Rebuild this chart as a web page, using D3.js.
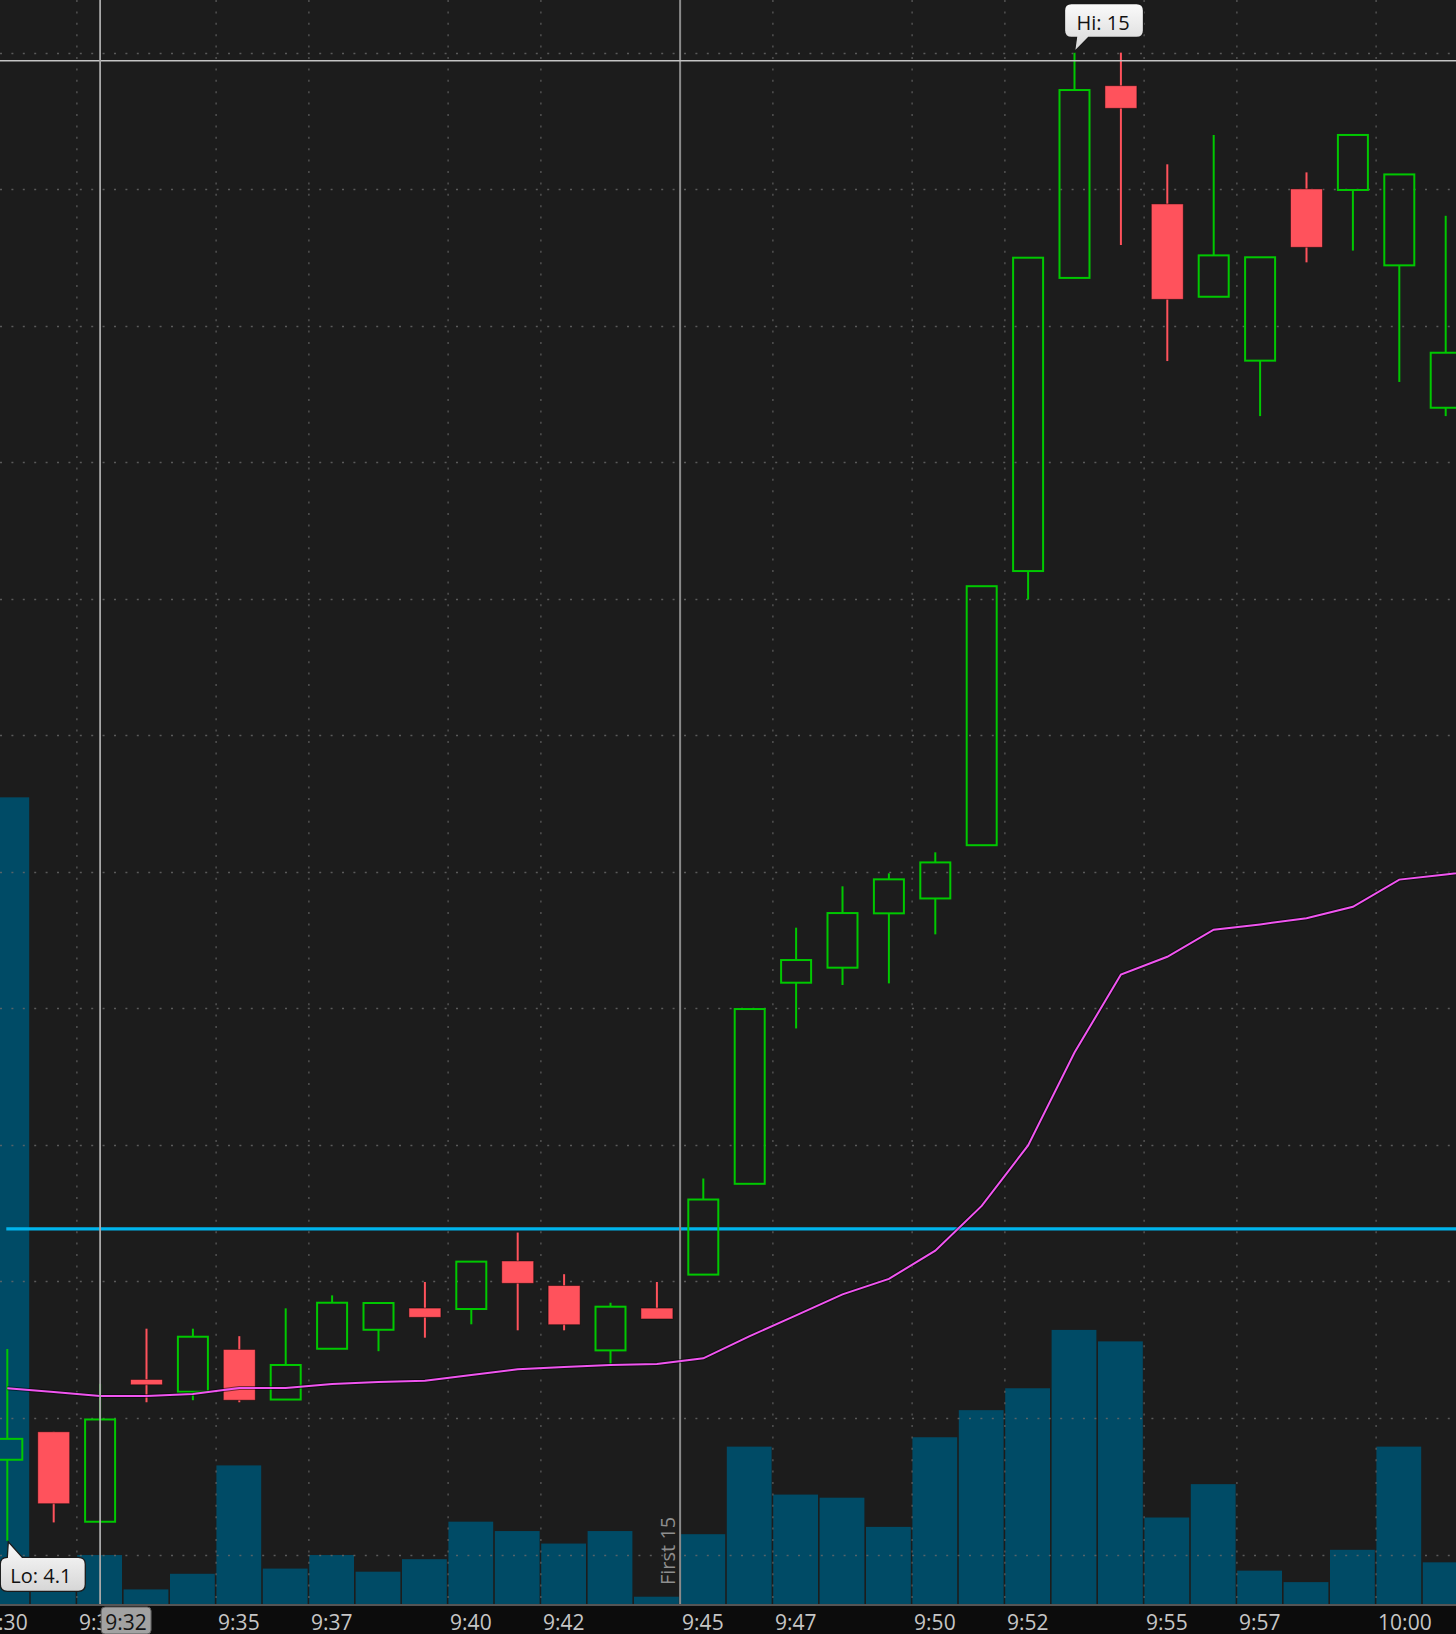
<!DOCTYPE html>
<html>
<head>
<meta charset="utf-8">
<script src="https://cdn.jsdelivr.net/npm/d3@7"></script>
<style>
  html, body { margin: 0; padding: 0; background: #1c1c1c; }
  svg { display: block; }
  text { font-family: "Open Sans", "Noto Sans", sans-serif; }
</style>
</head>
<body>
<svg id="chart" width="1456" height="1634"></svg>
<script>
// ---- data (1-minute bars) ----
const times = ["9:30","9:31","9:32","9:33","9:34","9:35","9:36","9:37","9:38","9:39",
  "9:40","9:41","9:42","9:43","9:44","9:45","9:46","9:47","9:48","9:49",
  "9:50","9:51","9:52","9:53","9:54","9:55","9:56","9:57","9:58","9:59","10:00","10:01"];
const opens  = [4.694,4.899,4.240,5.282,5.192,5.502,5.135,5.507,5.646,5.805,
  5.798,6.150,5.970,5.495,5.805,6.050,6.715,8.188,8.298,8.696,
  8.805,9.195,11.203,13.350,14.758,13.892,13.212,12.744,14.002,13.994,13.442,12.399];
const highs  = [5.505,4.899,5.250,5.654,5.654,5.599,5.803,5.898,5.842,5.996,
  6.145,6.358,6.053,5.844,5.996,6.754,7.995,8.591,8.894,8.989,
  9.143,11.092,13.498,15.000,15.000,14.182,14.397,13.501,14.123,14.397,14.108,13.805];
const lows   = [4.100,4.235,4.240,5.115,5.130,5.115,5.135,5.507,5.489,5.588,
  5.686,5.642,5.642,5.392,5.725,6.050,6.715,7.853,8.171,8.183,
  8.542,9.195,10.994,13.350,13.591,12.741,13.212,12.338,13.464,13.550,12.588,12.338];
const closes = [4.847,4.372,4.989,5.243,5.595,5.130,5.388,5.844,5.842,5.737,
  6.145,5.986,5.683,5.815,5.725,6.600,7.995,8.354,8.698,8.945,
  9.069,11.092,13.498,14.726,14.592,13.193,13.515,13.501,13.574,14.397,14.108,12.802];
const volumes = [774,34,47,14,29,133,34,47,31,43,
  79,70,58,70,7,67,151,105,102,74,
  160,186,207,263,252,83,115,32,21,52,151,40];
// VWAP per minute (last value is 10:02, just past the right edge)
const vwap = [5.217,5.190,5.160,5.160,5.175,5.219,5.219,5.248,5.263,5.273,
  5.314,5.356,5.373,5.388,5.395,5.437,5.599,5.752,5.905,6.019,
  6.225,6.553,6.996,7.676,8.248,8.378,8.576,8.615,8.660,8.744,8.943,8.981,9.02];
const levelPrice = 6.385;
const gridPrices = [4,5,6,7,8,9,10,11,12,13,14,15];
const tickMinutes = [0,2,5,7,10,12,15,17,20,22,25,27,30];
const tickLabels = ["9:30","9:32","9:35","9:37","9:40","9:42","9:45","9:47","9:50","9:52","9:55","9:57","10:00"];
const cursorMinute = 2;      // 9:32
const cursorLabel = "9:32";
const cursorPrice = 14.94;
const firstMinutes = 15;
const firstLabel = "First 15";
const hiLabel = "Hi: 15", hiIndex = 23, hiPrice = 15;
const loLabel = "Lo: 4.1", loIndex = 0, loPrice = 4.1;

// ---- layout ----
const W = 1456, H = 1634;
const axisTop = 1604;
const svg = d3.select("#chart");

const x = d3.scaleLinear().domain([0, 32]).range([-15.9, 1468.9]);
const step = x(1) - x(0);
const y = d3.scaleLinear().domain([4, 15]).range([1554.5, 52.63]);
const yv = d3.scaleLinear().domain([0, 800]).range([axisTop, axisTop - 800 * 1.0422]);

const GREEN = "#00c800", RED = "#ff525c", VOL = "#004b66";

svg.append("rect").attr("width", W).attr("height", H).attr("fill", "#1c1c1c");

const plot = svg.append("g");
const idx = d3.range(times.length);

// volume bars
plot.append("g").selectAll("rect").data(idx).join("rect")
  .attr("x", i => x(i) + 0.3)
  .attr("width", step - 1.6)
  .attr("y", i => yv(volumes[i]))
  .attr("height", i => axisTop - yv(volumes[i]))
  .attr("fill", VOL);

// grid
const grid = plot.append("g").attr("stroke", "#6a6a6a").attr("stroke-width", 1.3)
  .attr("stroke-dasharray", "2,9.4").attr("opacity", 0.8);
grid.selectAll("line.h").data(gridPrices).join("line")
  .attr("x1", 0).attr("x2", W)
  .attr("y1", d => Math.round(y(d)) + 0.5).attr("y2", d => Math.round(y(d)) + 0.5);
grid.selectAll("line.v").data(tickMinutes.filter(m => m !== firstMinutes)).join("line")
  .attr("y1", 0).attr("y2", axisTop)
  .attr("x1", d => x(d)).attr("x2", d => x(d));

// level line (cyan)
plot.append("line")
  .attr("x1", 6.3).attr("x2", W)
  .attr("y1", y(levelPrice)).attr("y2", y(levelPrice))
  .attr("stroke", "#00b4ec").attr("stroke-width", 3.2);

// First 15 separator
plot.append("line")
  .attr("x1", x(firstMinutes)).attr("x2", x(firstMinutes))
  .attr("y1", 0).attr("y2", axisTop)
  .attr("stroke", "#8a8a8a").attr("stroke-width", 2);
plot.append("text")
  .attr("transform", `translate(${x(firstMinutes) - 5},1585) rotate(-90)`)
  .attr("fill", "#8e8e8e").attr("font-size", 20)
  .text(firstLabel);

// candles
const cg = plot.append("g").selectAll("g").data(idx).join("g");
cg.each(function(i) {
  const g = d3.select(this);
  const cx = x(i + 0.5);
  const o = opens[i], c = closes[i], h = highs[i], l = lows[i];
  if (c >= o) {
    const top = y(c), bot = y(o);
    if (y(h) < top - 0.5)
      g.append("line").attr("x1", cx).attr("x2", cx).attr("y1", y(h)).attr("y2", top)
        .attr("stroke", GREEN).attr("stroke-width", 2);
    if (y(l) > bot + 0.5)
      g.append("line").attr("x1", cx).attr("x2", cx).attr("y1", bot).attr("y2", y(l))
        .attr("stroke", GREEN).attr("stroke-width", 2);
    g.append("rect").attr("x", cx - 15).attr("y", top)
      .attr("width", 30).attr("height", Math.max(1, bot - top))
      .attr("fill", "none").attr("stroke", GREEN).attr("stroke-width", 2);
  } else {
    g.append("line").attr("x1", cx).attr("x2", cx).attr("y1", y(h)).attr("y2", y(l))
      .attr("stroke", RED).attr("stroke-width", 2);
    g.append("rect").attr("x", cx - 16).attr("y", y(o))
      .attr("width", 32).attr("height", Math.max(1, y(c) - y(o)))
      .attr("fill", RED).attr("stroke", "rgba(0,0,0,0.45)").attr("stroke-width", 1);
  }
});

// VWAP line
const vline = d3.line().x((d, i) => x(i + 0.5)).y(d => y(d));
plot.append("path").datum(vwap).attr("d", vline)
  .attr("fill", "none").attr("stroke", "rgba(0,0,0,0.5)").attr("stroke-width", 4);
plot.append("path").datum(vwap).attr("d", vline)
  .attr("fill", "none").attr("stroke", "#f055f0").attr("stroke-width", 2);

// crosshair
plot.append("line")
  .attr("x1", 0).attr("x2", W).attr("y1", y(cursorPrice)).attr("y2", y(cursorPrice))
  .attr("stroke", "#c4c4c4").attr("stroke-width", 1.4);
plot.append("line")
  .attr("x1", x(cursorMinute + 0.5)).attr("x2", x(cursorMinute + 0.5))
  .attr("y1", 0).attr("y2", axisTop)
  .attr("stroke", "#a8a8a8").attr("stroke-width", 1.8);

// bubbles
const defs = svg.append("defs");
const grad = defs.append("linearGradient").attr("id", "bub").attr("x1", 0).attr("x2", 0).attr("y1", 0).attr("y2", 1);
grad.append("stop").attr("offset", "0%").attr("stop-color", "#fbfbfb");
grad.append("stop").attr("offset", "100%").attr("stop-color", "#d6d6d6");

// Hi bubble
{
  const ax = x(hiIndex + 0.5), ay = y(hiPrice);
  const l = ax - 10, t = 3.5, w = 79, h = 34;
  const p = d3.path();
  const r = 7;
  p.moveTo(l + r, t);
  p.lineTo(l + w - r, t);
  p.quadraticCurveTo(l + w, t, l + w, t + r);
  p.lineTo(l + w, t + h - r);
  p.quadraticCurveTo(l + w, t + h, l + w - r, t + h);
  p.lineTo(l + 24, t + h);
  p.lineTo(ax, ay - 1);
  p.lineTo(l + 12, t + h);
  p.lineTo(l + r, t + h);
  p.quadraticCurveTo(l, t + h, l, t + h - r);
  p.lineTo(l, t + r);
  p.quadraticCurveTo(l, t, l + r, t);
  p.closePath();
  svg.append("path").attr("d", p.toString())
    .attr("fill", "url(#bub)").attr("stroke", "#1a1a1a").attr("stroke-width", 1.3);
  svg.append("text").attr("x", l + 12).attr("y", t + 26.5)
    .attr("font-size", 20).attr("fill", "#111").text(hiLabel);
}
// Lo bubble
{
  const ax = x(loIndex + 0.5), ay = y(loPrice);
  const l = ax - 7, t = ay + 16.5, w = 85, h = 34;
  const r = 7;
  const p = d3.path();
  p.moveTo(l + r, t);
  p.lineTo(ax + 1, ay + 1);
  p.lineTo(l + 22, t);
  p.lineTo(l + w - r, t);
  p.quadraticCurveTo(l + w, t, l + w, t + r);
  p.lineTo(l + w, t + h - r);
  p.quadraticCurveTo(l + w, t + h, l + w - r, t + h);
  p.lineTo(l + r, t + h);
  p.quadraticCurveTo(l, t + h, l, t + h - r);
  p.lineTo(l, t + r);
  p.quadraticCurveTo(l, t, l + r, t);
  p.closePath();
  svg.append("path").attr("d", p.toString())
    .attr("fill", "url(#bub)").attr("stroke", "#1a1a1a").attr("stroke-width", 1.3);
  svg.append("text").attr("x", l + 10).attr("y", t + 26)
    .attr("font-size", 20).attr("fill", "#111").text(loLabel);
}

// x axis
svg.append("rect").attr("x", 0).attr("y", axisTop).attr("width", W).attr("height", H - axisTop)
  .attr("fill", "#0c0c0c");
svg.append("line").attr("x1", 0).attr("x2", W).attr("y1", axisTop + 1).attr("y2", axisTop + 1)
  .attr("stroke", "#555").attr("stroke-width", 2);

const xAxis = d3.axisBottom(x).tickValues(tickMinutes)
  .tickFormat((d, i) => tickLabels[i]).tickSize(0);
const ax = svg.append("g").attr("transform", `translate(0,${axisTop})`).call(xAxis);
ax.select(".domain").remove();
ax.selectAll("text")
  .attr("text-anchor", "start").attr("dy", null).attr("x", 1.5).attr("y", 26)
  .attr("fill", "#c6c6c6").attr("font-size", 21)
  .attr("font-family", "'Open Sans', 'Noto Sans', sans-serif");

// cursor time label
const cx0 = x(cursorMinute + 0.5);
svg.append("rect").attr("x", cx0 + 1).attr("y", 1607).attr("width", 50).attr("height", 27)
  .attr("rx", 4).attr("fill", "#a2a2a2").attr("stroke", "#5a5a5a").attr("stroke-width", 1);
svg.append("text").attr("x", cx0 + 26).attr("y", 1630).attr("text-anchor", "middle")
  .attr("font-size", 21).attr("fill", "#141414").text(cursorLabel);
</script>
</body>
</html>
